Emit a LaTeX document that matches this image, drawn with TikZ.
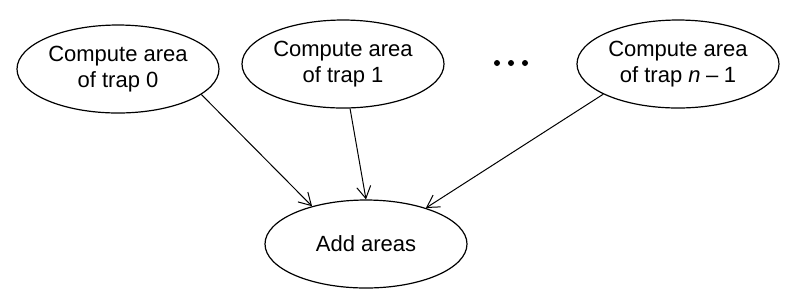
\documentclass[tikz,border=0pt]{standalone}
\usepackage{fontspec}
\setmainfont{Liberation Sans}
\usetikzlibrary{positioning,arrows.meta,shapes.geometric}

\tikzset{
  task/.style={draw, ellipse, line width=0.6pt, minimum width=101pt, minimum height=44pt,
    inner sep=0pt, align=center, font=\fontsize{11}{13}\selectfont},
  flow/.style={-{Straight Barb[length=6pt,width=7pt]}, line width=0.5pt}
}

\begin{document}
\begin{tikzpicture}[x=0.5pt, y=-0.5pt]
\useasboundingbox (0,0) rectangle (793,302);
\node[task] (trap0) at (118,69) {Compute area\\of trap 0};
\node[task] (trap1) at (343,64) {Compute area\\of trap 1};
\node[task] (trapn) at (678,64) {Compute area\\of trap \textit{n}\hspace{0.25em}–\hspace{0.25em}1};
\node[task] (add) at (366,244) {Add areas};
% dots between the second and the last task
\foreach \x in {497,511,525} \fill (\x,63) circle (1.5pt);
\draw[flow] (trap0.-17) -- (add.145);
\draw[flow] (trap1.-81) -- (add.90);
\draw[flow] (trapn.202) -- (add.31);
\end{tikzpicture}
\end{document}
